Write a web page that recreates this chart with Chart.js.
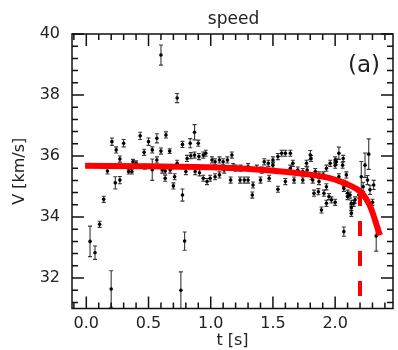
<!DOCTYPE html>
<html><head><meta charset="utf-8">
<script src="https://cdn.jsdelivr.net/npm/chart.js@4.4.1/dist/chart.umd.min.js"></script>
<style>html,body{margin:0;padding:0;background:#fff}#wrap{width:398px;height:350px}</style>
</head><body><div id="wrap"><canvas id="c" width="398" height="350"></canvas></div>
<script>
// ---- data ----
const tValues = [0.03,0.07,0.107,0.14,0.17,0.20,0.206,0.233,0.24,0.27,0.27,0.30,0.34,0.366,0.375,0.40,0.433,0.465,0.47,0.50,
0.53,0.53,0.567,0.567,0.60,0.60,0.61,0.634,0.64,0.634,0.67,0.674,0.70,0.71,0.73,0.73,0.76,0.773,0.773,0.79,
0.80,0.81,0.835,0.84,0.87,0.87,0.875,0.90,0.905,0.91,0.94,0.94,0.96,0.97,0.995,1.01,1.035,1.035,1.07,1.07,
1.10,1.108,1.134,1.16,1.17,1.18,1.20,1.236,1.24,1.27,1.30,1.30,1.334,1.34,1.37,1.40,1.41,1.43,1.463,1.47,
1.50,1.50,1.54,1.54,1.57,1.60,1.60,1.64,1.64,1.66,1.67,1.70,1.74,1.74,1.77,1.775,1.80,1.806,1.81,1.82,
1.83,1.84,1.865,1.87,1.87,1.89,1.905,1.91,1.93,1.93,1.93,1.95,1.96,1.97,2.00,2.00,2.00,2.01,2.03,2.03,
2.06,2.065,2.07,2.07,2.07,2.09,2.10,2.10,2.12,2.13,2.13,2.13,2.15,2.16,2.19,2.21,2.225,2.24,2.26,2.27,
2.28,2.30,2.31,2.33];
const vValues = [33.20,32.83,33.76,34.58,35.51,31.64,36.47,35.12,36.20,35.21,35.90,36.42,35.49,35.49,35.81,35.76,36.66,36.12,35.65,36.47,
36.20,35.55,36.58,35.87,39.31,36.16,35.54,35.51,36.69,35.27,36.16,35.54,35.02,35.32,37.90,35.76,31.60,36.38,34.72,33.21,
35.49,35.92,36.42,36.01,36.78,36.03,35.49,36.42,35.98,35.45,35.27,36.03,36.09,35.16,35.27,35.87,35.81,35.32,35.87,35.38,
35.81,35.54,35.87,35.21,36.03,35.65,35.60,35.21,35.60,35.21,35.21,35.65,34.72,35.05,35.60,35.21,35.54,35.81,35.76,35.27,
35.70,35.87,34.91,35.98,36.09,36.09,35.16,36.09,35.60,35.76,35.21,35.54,35.21,35.49,35.76,35.54,36.03,35.92,35.32,35.21,
34.78,35.49,34.83,35.16,35.38,34.23,35.38,34.78,34.99,35.60,34.45,34.67,35.76,34.56,35.87,35.70,34.48,35.81,36.09,35.32,
35.70,35.92,35.10,34.94,33.52,35.38,34.78,34.67,34.72,34.12,34.45,34.30,34.45,34.56,34.72,35.32,34.99,35.70,35.21,36.06,
34.89,34.48,35.05,33.38];
const vErrors = [0.50,0.22,0.10,0.10,0.10,0.60,0.12,0.20,0.10,0.12,0.10,0.12,0.08,0.08,0.08,0.08,0.12,0.10,0.08,0.12,
0.10,0.35,0.15,0.10,0.33,0.10,0.10,0.10,0.10,0.10,0.08,0.10,0.10,0.10,0.15,0.10,0.60,0.10,0.20,0.30,
0.10,0.10,0.15,0.10,0.25,0.10,0.10,0.10,0.10,0.10,0.10,0.10,0.10,0.10,0.10,0.10,0.10,0.10,0.10,0.10,
0.10,0.10,0.10,0.10,0.10,0.10,0.10,0.10,0.10,0.10,0.10,0.10,0.10,0.10,0.10,0.10,0.10,0.10,0.10,0.10,
0.10,0.10,0.10,0.10,0.10,0.10,0.10,0.10,0.10,0.10,0.10,0.10,0.10,0.10,0.10,0.10,0.15,0.10,0.10,0.10,
0.10,0.10,0.10,0.10,0.10,0.10,0.10,0.10,0.10,0.10,0.10,0.10,0.10,0.10,0.10,0.10,0.10,0.10,0.20,0.10,
0.10,0.10,0.10,0.10,0.15,0.10,0.10,0.10,0.10,0.10,0.10,0.10,0.10,0.10,0.10,0.50,0.15,0.40,0.15,0.50,
0.15,0.10,0.15,0.50];
const fitT = [-0.01,0.5,1.0,1.2,1.5,1.8,1.95,2.05,2.12,2.18,2.22,2.26,2.29,2.31,2.33,2.35,2.36];
const fitV = [35.68,35.66,35.63,35.60,35.52,35.39,35.28,35.15,35.03,34.90,34.76,34.52,34.27,34.03,33.78,33.52,33.40];
const cutoffT = [2.2, 2.2];
const cutoffV = [34.85, 31.3];
const xTickValues = [0, 0.5, 1.0, 1.5, 2.0];
const xTickLabels = ['0.0','0.5','1.0','1.5','2.0'];
const yTickValues = [32, 34, 36, 38, 40];
const yTickLabels = ['32','34','36','38','40'];
const titleText = 'speed';
const panelLabel = '(a)';
const xLabel = 't [s]';
const yLabel = 'V [km/s]';

// ---- styling ----
const FONT = '"DejaVu Sans", "Liberation Sans", sans-serif';
const X_MINOR = 0.1, Y_MINOR = 0.4;

const decor = {
  id: 'decor',
  beforeDatasetsDraw(chart) {
    const {ctx, chartArea: a, scales: {x, y}} = chart;
    ctx.save();
    ctx.beginPath(); ctx.rect(a.left, a.top, a.right - a.left, a.bottom - a.top); ctx.clip();
    ctx.strokeStyle = 'rgba(20,20,20,0.85)'; ctx.lineWidth = 1.1;
    for (let i = 0; i < tValues.length; i++) {
      const px = x.getPixelForValue(tValues[i]);
      const y1 = y.getPixelForValue(vValues[i] - vErrors[i]);
      const y2 = y.getPixelForValue(vValues[i] + vErrors[i]);
      ctx.beginPath();
      ctx.moveTo(px, y1); ctx.lineTo(px, y2);
      ctx.moveTo(px - 2, y1); ctx.lineTo(px + 2, y1);
      ctx.moveTo(px - 2, y2); ctx.lineTo(px + 2, y2);
      ctx.stroke();
    }
    ctx.restore();
  },
  afterDraw(chart) {
    const {ctx, chartArea: a, scales: {x, y}} = chart;
    ctx.save();
    ctx.strokeStyle = '#111'; ctx.lineWidth = 1.5;
    ctx.strokeRect(a.left, a.top, a.right - a.left, a.bottom - a.top);
    const MAJ = 12, MIN = 6;
    ctx.beginPath();
    for (let k = -2; k <= 26; k++) {
      const v = Math.round(k * X_MINOR * 10) / 10;
      if (v < x.min || v > x.max) continue;
      const isMaj = xTickValues.some(t => Math.abs(t - v) < 1e-6);
      const L = isMaj ? MAJ : MIN;
      const px = x.getPixelForValue(v);
      ctx.moveTo(px, a.bottom); ctx.lineTo(px, a.bottom - L);
      ctx.moveTo(px, a.top); ctx.lineTo(px, a.top + L);
    }
    for (let k = 0; k <= 30; k++) {
      const v = Math.round((y.max - k * Y_MINOR) * 10) / 10;
      if (v < y.min || v > y.max) continue;
      const isMaj = yTickValues.some(t => Math.abs(t - v) < 1e-6);
      const L = isMaj ? MAJ : MIN;
      const py = y.getPixelForValue(v);
      ctx.moveTo(a.left, py); ctx.lineTo(a.left + L, py);
      ctx.moveTo(a.right, py); ctx.lineTo(a.right - L, py);
    }
    ctx.stroke();
    ctx.fillStyle = '#222';
    ctx.font = '17px ' + FONT;
    ctx.textAlign = 'center'; ctx.textBaseline = 'alphabetic';
    ctx.fillText(titleText, (a.left + a.right) / 2 + 1, 24);
    ctx.font = '23px ' + FONT;
    ctx.textAlign = 'right';
    ctx.fillText(panelLabel, a.right - 13, a.top + 38);
    ctx.restore();
  }
};

const points = tValues.map((t, i) => ({x: t, y: vValues[i]}));
const fitPts = fitT.map((t, i) => ({x: t, y: fitV[i]}));
const cutPts = cutoffT.map((t, i) => ({x: t, y: cutoffV[i]}));

new Chart(document.getElementById('c'), {
  type: 'scatter',
  data: {
    datasets: [
      {label: 'fit', data: fitPts, showLine: true, borderColor: '#ff0000', backgroundColor: '#ff0000',
       borderWidth: 6, pointRadius: 0, cubicInterpolationMode: 'monotone', order: 0},
      {label: 'cutoff', data: cutPts, showLine: true, borderColor: '#ff0000', borderWidth: 4,
       borderDash: [15, 15], pointRadius: 0, order: 1},
      {label: 'speed', data: points, pointRadius: 1.8, pointBackgroundColor: '#000', pointBorderWidth: 0,
       borderColor: '#000', order: 2}
    ]
  },
  options: {
    responsive: false, animation: false, devicePixelRatio: 1,
    layout: {padding: {top: 34, right: 5, left: 0, bottom: 0}},
    plugins: {legend: {display: false}, tooltip: {enabled: false}, title: {display: false}},
    scales: {
      x: {
        type: 'linear', min: -0.115, max: 2.465,
        afterBuildTicks: s => { s.ticks = xTickValues.map(v => ({value: v})); },
        afterFit: s => { s.height = 41.5; },
        ticks: {callback: (v, i) => xTickLabels[i], font: {family: FONT, size: 16}, color: '#222', padding: 6, maxRotation: 0},
        grid: {display: false, drawTicks: false},
        border: {display: false},
        title: {display: true, text: xLabel, font: {family: FONT, size: 16}, color: '#222', padding: {top: 0, bottom: 0}}
      },
      y: {
        type: 'linear', min: 31, max: 40,
        afterBuildTicks: s => { s.ticks = yTickValues.map(v => ({value: v})); },
        afterFit: s => { s.width = 72; },
        ticks: {callback: (v, i) => yTickLabels[i], font: {family: FONT, size: 16}, color: '#222', padding: 12},
        grid: {display: false, drawTicks: false},
        border: {display: false},
        title: {display: true, text: yLabel, font: {family: FONT, size: 16}, color: '#222', padding: {top: 10, bottom: 0}}
      }
    }
  },
  plugins: [decor]
});
</script></body></html>
